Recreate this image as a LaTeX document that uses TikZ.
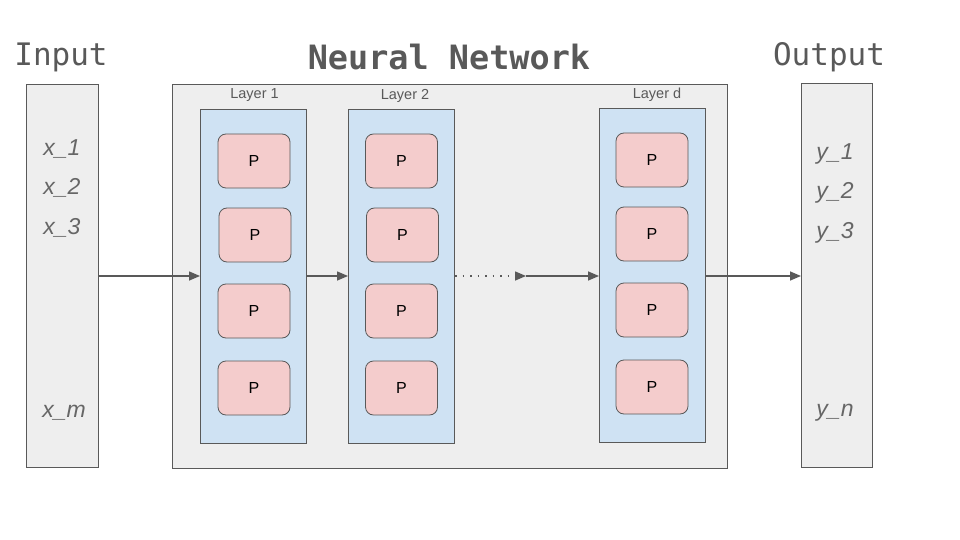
\documentclass[tikz,border=0pt]{standalone}
\usepackage{fontspec}
\setmainfont{Liberation Sans}
\newfontfamily\monofont{DejaVu Sans Mono}
\usetikzlibrary{arrows.meta}
\definecolor{boxgrey}{HTML}{EEEEEE}
\definecolor{edgegrey}{HTML}{595959}
\definecolor{layerblue}{HTML}{CFE2F3}
\definecolor{cellpink}{HTML}{F4CCCC}
\definecolor{textgrey}{HTML}{595959}
\definecolor{vargrey}{HTML}{666666}
\tikzset{
  greybox/.style={draw=edgegrey, fill=boxgrey, line width=1pt, anchor=north west, inner sep=0},
  layerbox/.style={draw=edgegrey, fill=layerblue, line width=1pt, anchor=north west, inner sep=0, minimum width=106, minimum height=334},
  cell/.style={draw=edgegrey, fill=cellpink, line width=0.8pt, rounded corners=8pt, minimum width=72, minimum height=54, inner sep=0, font=\fontsize{16}{18}\selectfont},
  heading/.style={text=textgrey, inner sep=0, font=\monofont\fontsize{31}{34}\selectfont},
  var/.style={text=vargrey, inner sep=0, font=\itshape\fontsize{23}{25}\selectfont},
  layerlabel/.style={text=textgrey, inner sep=0, font=\fontsize{14.5}{16}\selectfont},
  conn/.style={draw=edgegrey, line width=1.5pt, -{Triangle[length=11pt,width=9pt]}},
}
\begin{document}
\begin{tikzpicture}[x=1pt,y=-1pt]
\useasboundingbox (0,0) rectangle (960,540);
% headings
\node[heading] (tin) at (61,57) {Input};
\node[heading, font=\monofont\bfseries\fontsize{33.5}{36}\selectfont] (tnn) at (449,57) {Neural Network};
\node[heading] (tout) at (829,57) {Output};
% input / output
\node[greybox, minimum width=72, minimum height=383] (in) at (26,84) {};
\node[greybox, minimum width=71, minimum height=384] (out) at (801,83) {};
\node[var] (x1) at (62,149) {x\_1};
\node[var] (x2) at (62,188) {x\_2};
\node[var] (x3) at (62,228) {x\_3};
\node[var] (xm) at (64,413) {x\_m};
\node[var] (y1) at (835,154) {y\_1};
\node[var] (y2) at (835,193) {y\_2};
\node[var] (y3) at (835,233) {y\_3};
\node[var] (yn) at (835,413) {y\_n};
% network
\node[greybox, minimum width=555, minimum height=384] (nn) at (172,84) {};
\node[layerbox] (l1) at (200,109) {};
\node[layerbox] (l2) at (348,109) {};
\node[layerbox] (ld) at (599,108) {};
\node[layerlabel] (l1t) at (254.5,95) {Layer 1};
\node[layerlabel] (l2t) at (405,96) {Layer 2};
\node[layerlabel] (ldt) at (657,95) {Layer d};
% cells
\node[cell] (a1) at (254,161) {P};
\node[cell] (a2) at (255,235) {P};
\node[cell] (a3) at (254,311) {P};
\node[cell] (a4) at (254,388) {P};
\node[cell] (b1) at (401.5,161) {P};
\node[cell] (b2) at (402.5,235) {P};
\node[cell] (b3) at (401.5,311) {P};
\node[cell] (b4) at (401.5,388) {P};
\node[cell] (c1) at (652,160) {P};
\node[cell] (c2) at (652,234) {P};
\node[cell] (c3) at (652,310) {P};
\node[cell] (c4) at (652,387) {P};
% connectors
\coordinate (mid) at (526,276);
\draw[conn] (in.east |- 0,276) -- (l1.west |- 0,276);
\draw[conn] (l1.east |- 0,276) -- (l2.west |- 0,276);
\draw[conn, dash pattern=on 1.5pt off 6pt] (l2.east |- 0,276) -- (mid);
\draw[conn] (mid) -- (ld.west |- 0,276);
\draw[conn] (ld.east |- 0,276) -- (out.west |- 0,276);
\end{tikzpicture}
\end{document}
